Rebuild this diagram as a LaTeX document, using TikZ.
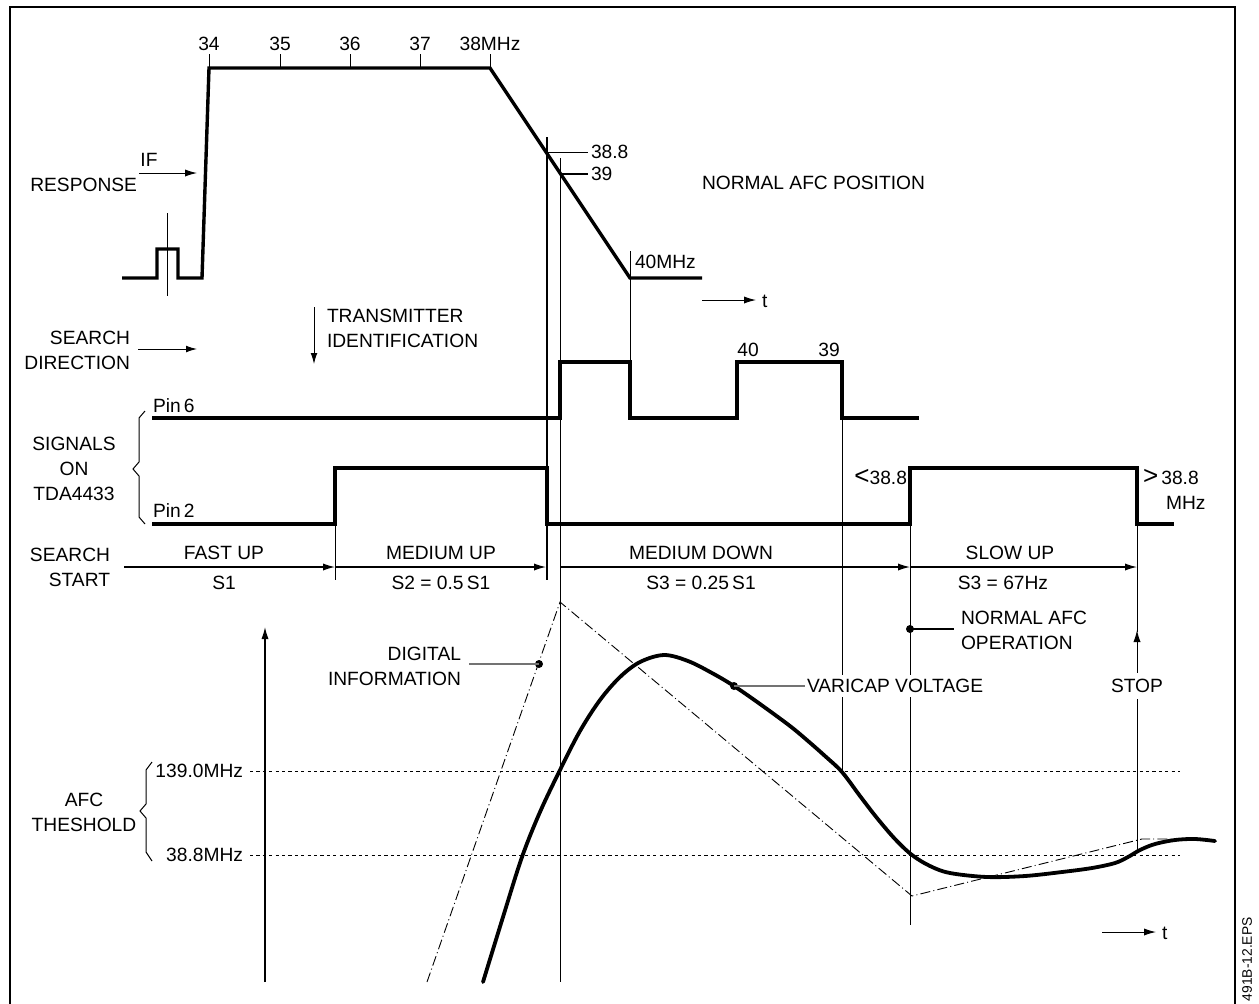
\documentclass[tikz,border=0pt]{standalone}
\usepackage{fontspec}
\setmainfont{Liberation Sans}
\usetikzlibrary{arrows.meta}
\begin{document}
\begin{tikzpicture}[x=0.5pt,y=-0.5pt,
  every node/.style={font=\fontsize{9.6}{12.5}\selectfont, inner sep=0pt, outer sep=0pt},
  sig/.style={line width=1.7pt, line join=miter},
  fine/.style={line width=0.5pt},
  tip/.style={-{Latex[length=6pt,width=3.6pt]}},
  dashdot/.style={line width=0.45pt, dash pattern=on 5pt off 1.6pt on 0.5pt off 1.6pt},
  thresh/.style={line width=0.5pt, dash pattern=on 1.6pt off 1.6pt},
  leader/.style={line width=0.6pt, draw=black!55},
  dot/.style={circle, fill=black, minimum size=4pt, inner sep=0pt},
]
\useasboundingbox (0,0) rectangle (1259,1003);
% frame
\draw[line width=1pt] (10,1010) -- (10,7) -- (1235,7) -- (1235,1010);
\node[rotate=90, anchor=west, font=\fontsize{6.9}{8}\selectfont] (eps) at (1247,1001) {491B-12.EPS};

% ---------- IF response ----------
\draw[sig] (122,278) -- (157,278) -- (157,249) -- (178,249) -- (178,278) -- (202,278)
  -- (209,68) -- (490,68) -- (630,278) -- (702,278);
\draw[fine] (167,213) -- (167,296);
\foreach \x/\l in {209/34,280/35,350/36,420/37,490/38MHz}{
  \draw[fine] (\x,54) -- (\x,68);
  \node (f\x) at (\x,44) {\l};
}
\draw[fine] (547,152) -- (588,152);
\draw[line width=0.8pt] (561,174) -- (588,174);
\node[anchor=west] (m388) at (591,152) {38.8};
\node[anchor=west] (m39) at (591,174) {39};
\node[anchor=west] (m40) at (635,262) {40MHz};
\node[anchor=west] (nap) at (702,183) {NORMAL AFC POSITION};
\coordinate (ta) at (702,300);
\coordinate (tb) at (756,300);
\draw[fine,tip] (ta) -- (tb);
\node[anchor=west] (t1) at (762,301) {t};

\node (if) at (149,160) {IF};
\node[anchor=east] (resp) at (137,185) {RESPONSE};
\draw[fine,tip] (139,173) -- (197,173);

% ---------- search direction ----------
\node[anchor=east, align=right] (sdir) at (130,350) {SEARCH\\DIRECTION};
\draw[fine,-{Latex[length=5.5pt,width=3.4pt]}] (138,349) -- (197,349);
\node[anchor=west, align=left] (tid) at (327,328) {TRANSMITTER\\IDENTIFICATION};
\draw[fine,-{Latex[length=5.5pt,width=3.4pt]}] (314,307) -- (314,364);

% ---------- signals ----------
\node[anchor=west] (p6) at (153,406) {Pin\,6};
\node[anchor=west] (p2) at (153,511) {Pin\,2};
\node[align=center] (sig) at (74,469) {SIGNALS\\ON\\TDA4433};
\draw[fine] (145,411) -- (139,418) -- (139,462) -- (133,469) -- (139,476) -- (139,517) -- (145,524);
\draw[sig] (152,418) -- (560,418) -- (560,362) -- (630,362) -- (630,418) -- (737,418)
  -- (737,362) -- (842,362) -- (842,418) -- (919,418);
\draw[sig] (152,524) -- (335,524) -- (335,468) -- (547,468) -- (547,524) -- (910,524)
  -- (910,468) -- (1137,468) -- (1137,524) -- (1174,524);
\node (p40) at (748,350) {40};
\node (p39) at (829,350) {39};
\node[anchor=east] (lt) at (907,477) {{\fontsize{13}{13}\selectfont<}38.8};
\node[anchor=west] (gt) at (1143,477) {{\fontsize{13}{13}\selectfont>}\,38.8};
\node[anchor=west] (mhz) at (1166,503) {MHz};

% vertical markers
\draw[fine] (560,158) -- (560,982);
\draw[line width=0.7pt] (547,137) -- (547,580);
\draw[fine] (630,251) -- (630,362);
\draw[fine] (335,524) -- (335,580);
\draw[fine] (842,418) -- (842,770);
\draw[fine] (910,524) -- (910,925);
\draw[fine] (1137,524) -- (1137,632);

% ---------- search speeds ----------
\node[anchor=east, align=right] (sst) at (110,567) {SEARCH\\START};
\draw[line width=0.6pt,tip] (124,567) -- (335,567);
\draw[line width=0.6pt,tip] (335,567) -- (546,567);
\draw[line width=0.6pt,tip] (560,567) -- (910,567);
\draw[line width=0.6pt,tip] (910,567) -- (1137,567);
\node (fu) at (224,553) {FAST UP};
\node (s1) at (224,583) {S1};
\node (mu) at (441,553) {MEDIUM UP};
\node (s2) at (441,583) {S2 = 0.5\,S1};
\node (md) at (701,553) {MEDIUM DOWN};
\node (s3) at (701,583) {S3 = 0.25\,S1};
\node (su) at (1010,553) {SLOW UP};
\node (s4) at (1003,583) {S3 = 67Hz};

% ---------- lower graph ----------
\draw[line width=0.7pt,tip] (265,982) -- (265,627);
\draw[thresh] (250,771) -- (1180,771);
\draw[thresh] (250,855) -- (1180,855);
\node[anchor=east] (th1) at (243,771) {139.0MHz};
\node[anchor=east] (th2) at (243,855) {38.8MHz};
\draw[fine] (152,762) -- (146,770) -- (146,804) -- (140,811) -- (146,818) -- (146,852) -- (152,861);
\node[align=center] (afc) at (84,812) {AFC\\THESHOLD};

\draw[dashdot] (427,982) -- (560,602) -- (912,896) -- (1142,839) -- (1172,839);

\draw[line width=1.9pt, line cap=round] plot[smooth, tension=0.55] coordinates {
 (483,982) (503,917) (522,857) (540,812) (560,770) (580,731) (600,700) (620,677)
 (640,662) (664,655) (688,661) (712,673) (734,686) (760,704) (790,726) (808,741)
 (825,756) (842,772) (860,796) (877,818) (895,839) (912,855) (930,866) (950,873)
 (987,877) (1025,876) (1062,872) (1092,868) (1115,863) (1128,857) (1140,850)
 (1155,844) (1175,840) (1195,839) (1215,841)};

\draw[fine,tip] (1137,850) -- (1137,630);

% leaders
\node[anchor=east, align=right] (dig) at (461,666) {DIGITAL\\INFORMATION};
\node[dot] (dd) at (539,664) {};
\draw[leader] (469,664) -- (dd.center);
\node[anchor=west, fill=white, inner xsep=1pt, inner ysep=2pt] (var) at (805,686) {VARICAP VOLTAGE};
\node[dot] (vd) at (734,686) {};
\draw[leader] (vd.center) -- (var.west);
\node[fill=white, inner xsep=1pt, inner ysep=3pt] (stop) at (1137,686) {STOP};
\node[anchor=west, align=left] (nao) at (961,630) {NORMAL AFC\\OPERATION};
\node[dot] (nd) at (910,629) {};
\draw[line width=0.7pt] (nd.center) -- (954,629);

\draw[fine,tip] (1102,932) -- (1156,932);
\node[anchor=west] (t2) at (1162,933) {t};
\end{tikzpicture}
\end{document}
